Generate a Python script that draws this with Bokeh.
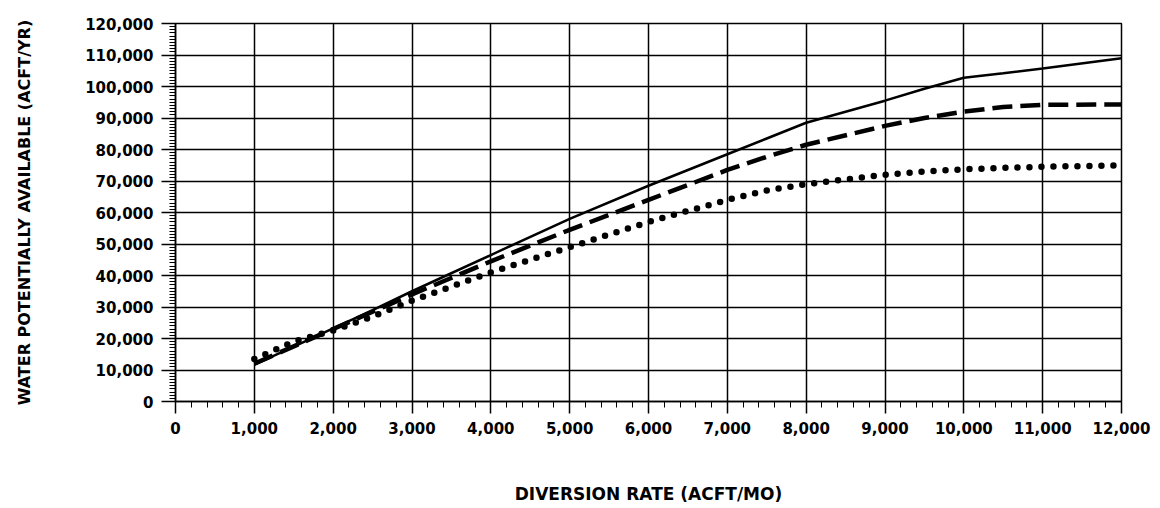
from bokeh.plotting import figure
from bokeh.models import Range1d, SingleIntervalTicker, NumeralTickFormatter
from bokeh.embed import file_html
from bokeh.resources import INLINE

# Diversion rate (ACFT/MO)
diversion = [1000, 1500, 2000, 2500, 3000, 4000, 5000, 6000, 7000, 7500, 8000, 9000, 9500, 10000, 10500, 11000, 12000]
# Water potentially available (ACFT/YR) for the three curves
solid_vals = [11700, 17400, 23200, 29000, 35000, 46500, 58000, 68500, 78500, 83500, 88500, 95500, 99300, 102800, 104200, 105700, 109000]
dashed_vals = [12000, 17500, 23000, 28500, 34000, 44500, 54500, 64000, 73500, 77700, 81500, 87500, 90000, 92000, 93500, 94200, 94300]
dotted_vals = [13500, 19000, 22500, 27000, 32000, 41000, 49000, 57000, 64000, 67000, 69000, 72000, 73000, 73700, 74200, 74500, 75000]

x_label = "DIVERSION RATE (ACFT/MO)"
y_label = "WATER POTENTIALLY AVAILABLE (ACFT/YR)"

FONT = "DejaVu Sans"

p = figure(width=1160, height=508, output_backend="svg", toolbar_location=None,
           x_range=Range1d(0, 12000), y_range=Range1d(0, 120000))
p.min_border_left = 175
p.min_border_right = 39
p.min_border_top = 23
p.min_border_bottom = 107

p.background_fill_color = "white"
p.border_fill_color = "white"
p.outline_line_color = "black"
p.outline_line_width = 1.5

p.xaxis.ticker = SingleIntervalTicker(interval=1000, num_minor_ticks=5)
p.yaxis.ticker = SingleIntervalTicker(interval=10000, num_minor_ticks=10)
p.xaxis.formatter = NumeralTickFormatter(format="0,0")
p.yaxis.formatter = NumeralTickFormatter(format="0,0")

for ax in (p.xaxis, p.yaxis):
    ax.axis_line_color = "black"
    ax.axis_line_width = 1.5
    ax.major_tick_line_color = "black"
    ax.major_tick_line_width = 1.5
    ax.minor_tick_line_color = "black"
    ax.minor_tick_line_width = 1
    ax.major_tick_in = 0
    ax.minor_tick_in = 0
    ax.major_label_text_font = FONT
    ax.major_label_text_font_style = "bold"
    ax.major_label_text_font_size = "15px"
    ax.major_label_text_color = "black"
    ax.axis_label_text_font = FONT
    ax.axis_label_text_font_style = "bold"
    ax.axis_label_text_color = "black"

p.xaxis.major_tick_out = 12
p.xaxis.minor_tick_out = 6
p.yaxis.major_tick_out = 14
p.yaxis.minor_tick_out = 6
p.xaxis.major_label_standoff = 8
p.yaxis.major_label_standoff = 8

p.xaxis.axis_label = x_label
p.yaxis.axis_label = y_label
p.xaxis.axis_label_text_font_size = "17px"
p.yaxis.axis_label_text_font_size = "16px"
p.xaxis.axis_label_standoff = 47
p.yaxis.axis_label_standoff = 48

p.xgrid.grid_line_color = "black"
p.ygrid.grid_line_color = "black"
p.xgrid.grid_line_width = 1.5
p.ygrid.grid_line_width = 1.5
p.xgrid.grid_line_alpha = 1.0
p.ygrid.grid_line_alpha = 1.0

p.line(diversion, solid_vals, line_color="black", line_width=2.5)
p.line(diversion, dashed_vals, line_color="black", line_width=4.5, line_dash="20 8")
p.line(diversion, dotted_vals, line_color="black", line_width=6.5, line_dash="0 12", line_cap="round")

open("out.html", "w").write(file_html(p, INLINE))
